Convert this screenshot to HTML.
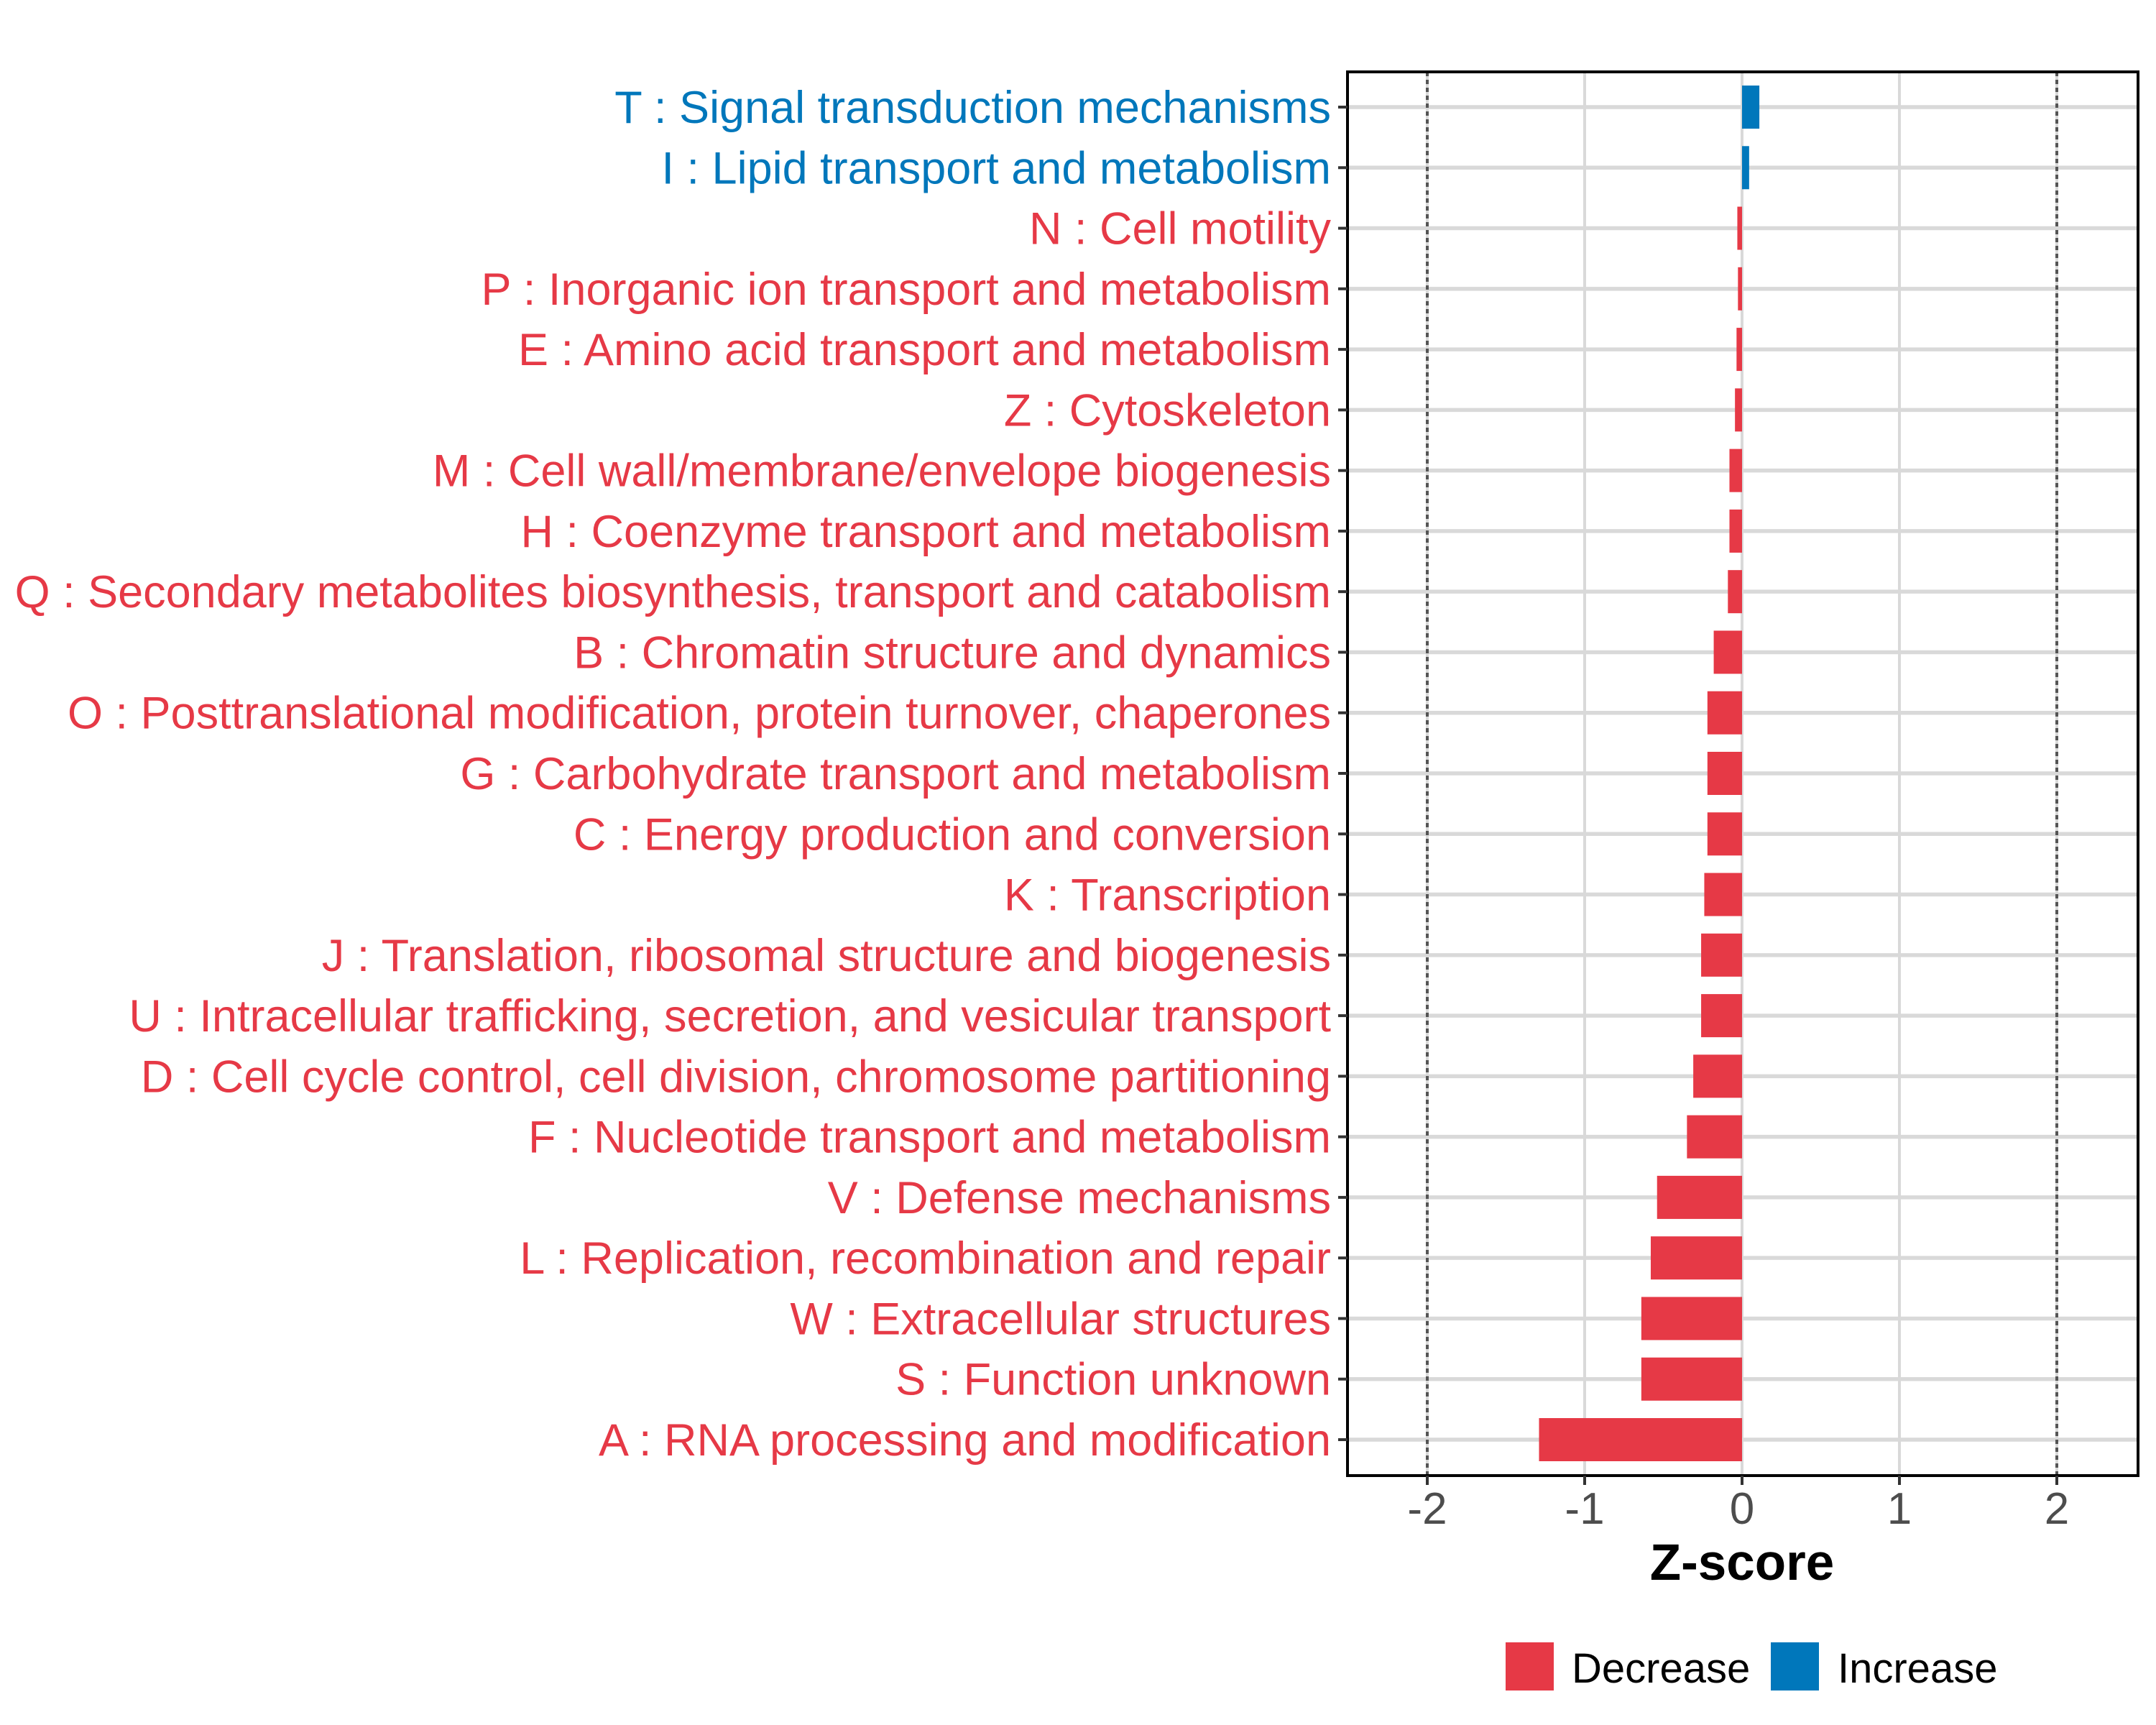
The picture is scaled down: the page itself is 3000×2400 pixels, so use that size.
<!DOCTYPE html>
<html><head><meta charset="utf-8"><style>
html,body{margin:0;padding:0;background:#fff;}
svg{display:block;font-family:"Liberation Sans",Arial,sans-serif;}
</style></head><body>
<svg id="chart" width="3000" height="2400" viewBox="0 0 3000 2400" xmlns="http://www.w3.org/2000/svg">
<g id="grid"></g>
<g id="bars"></g>
<rect x="1875" y="100" width="1100" height="1953" fill="none" stroke="#000" stroke-width="4"/>
<g id="yaxis"></g>
<g id="xaxis"></g>
<text x="2424" y="2198" text-anchor="middle" font-size="71" font-weight="bold" fill="#000">Z-score</text>
<g>
<rect x="2095" y="2285" width="67" height="67" fill="#E63946"/>
<text x="2187" y="2341" font-size="58" fill="#000">Decrease</text>
<rect x="2464" y="2285" width="67" height="67" fill="#0077BB"/>
<text x="2557" y="2341" font-size="58" fill="#000">Increase</text>
</g>
</svg>
<script>
const categories = ["T : Signal transduction mechanisms","I : Lipid transport and metabolism","N : Cell motility","P : Inorganic ion transport and metabolism","E : Amino acid transport and metabolism","Z : Cytoskeleton","M : Cell wall/membrane/envelope biogenesis","H : Coenzyme transport and metabolism","Q : Secondary metabolites biosynthesis, transport and catabolism","B : Chromatin structure and dynamics","O : Posttranslational modification, protein turnover, chaperones","G : Carbohydrate transport and metabolism","C : Energy production and conversion","K : Transcription","J : Translation, ribosomal structure and biogenesis","U : Intracellular trafficking, secretion, and vesicular transport","D : Cell cycle control, cell division, chromosome partitioning","F : Nucleotide transport and metabolism","V : Defense mechanisms","L : Replication, recombination and repair","W : Extracellular structures","S : Function unknown","A : RNA processing and modification"];
const zscores = [0.11,0.045,-0.03,-0.026,-0.035,-0.045,-0.08,-0.08,-0.09,-0.18,-0.22,-0.22,-0.22,-0.24,-0.26,-0.26,-0.31,-0.35,-0.54,-0.58,-0.64,-0.64,-1.29];
const xTicks = [-2,-1,0,1,2];
const xTickLabels = ["-2","-1","0","1","2"];
const thresholds = [-2,2];

const NS="http://www.w3.org/2000/svg";
const panelL=1875, panelR=2975, panelT=100, panelB=2053;
const x0=2424, unit=219;
const xs = v => x0 + v*unit;
const rowTop=149, rowStep=(2003-149)/(categories.length-1);
const ys = i => rowTop + i*rowStep;
const barH = 60;
const RED="#E63946", BLUE="#0077BB";
function mk(tag, attrs, parent){const e=document.createElementNS(NS,tag);for(const k in attrs)e.setAttribute(k,attrs[k]);parent.appendChild(e);return e;}
const grid=document.getElementById('grid'), bars=document.getElementById('bars'), yaxis=document.getElementById('yaxis'), xaxis=document.getElementById('xaxis');

xTicks.forEach((t,i)=>{
  const l=mk('line',{x1:xs(t),x2:xs(t),y1:panelT,y2:panelB,stroke:'#d9d9d9','stroke-width':4},grid);
  
  
  const tk=mk('line',{x1:xs(t),x2:xs(t),y1:panelB,y2:panelB+13,stroke:'#333','stroke-width':4},xaxis);
  
  
  const tx=mk('text',{x:xs(t),y:2120,'text-anchor':'middle','font-size':62,fill:'#4d4d4d'},xaxis);
  tx.textContent=xTickLabels[i];
  
  
});
categories.forEach((c,i)=>{
  const y=ys(i);
  const g=mk('line',{x1:panelL,x2:panelR,y1:y,y2:y,stroke:'#d9d9d9','stroke-width':5.5},grid);
  
  
});
thresholds.forEach(t=>{
  const d=mk('line',{x1:xs(t),x2:xs(t),y1:panelT,y2:panelB,stroke:'#555','stroke-width':4,'stroke-dasharray':'6 5'},grid);
  
  
});
categories.forEach((c,i)=>{
  const v=zscores[i], y=ys(i), col=v>=0?BLUE:RED;
  const r=mk('rect',{x:Math.min(xs(0),xs(v)),y:y-barH/2,width:Math.abs(xs(v)-xs(0)),height:barH,fill:col},bars);
  
  
  const tk=mk('line',{x1:panelL-13,x2:panelL,y1:y,y2:y,stroke:'#333','stroke-width':4},yaxis);
  
  
  const tx=mk('text',{x:1852,y:y+22,'text-anchor':'end','font-size':63,fill:col},yaxis);
  tx.textContent=c;
  
  
});
</script>
</body></html>
